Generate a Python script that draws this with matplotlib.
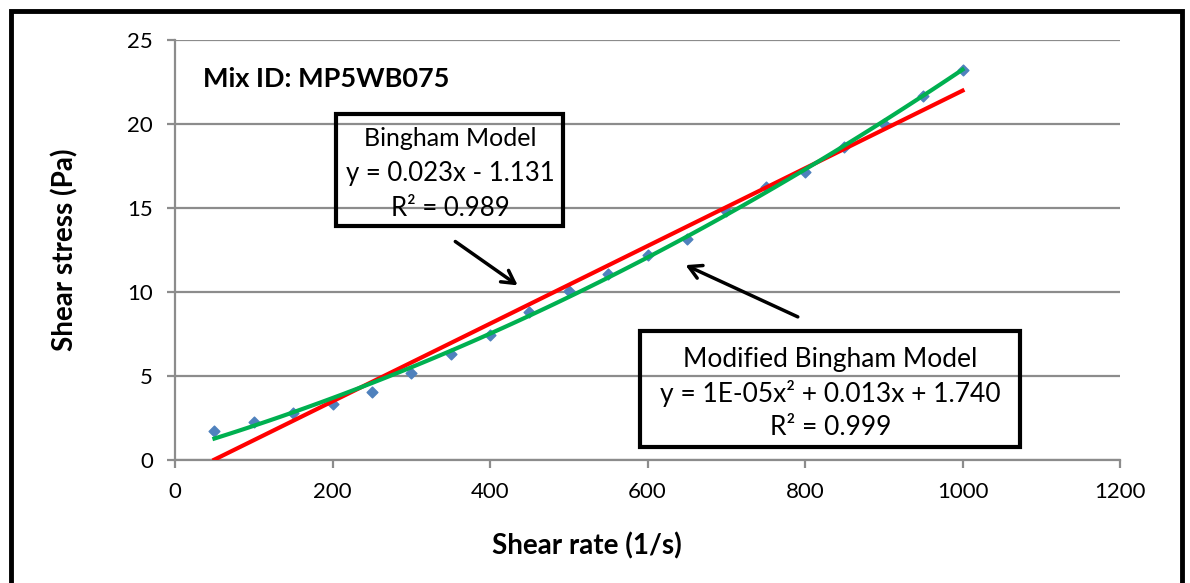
import numpy as np
import matplotlib
matplotlib.use("Agg")
import matplotlib.pyplot as plt
from matplotlib.patches import Rectangle

plt.rcParams['font.family'] = ['Lato', 'DejaVu Sans']

# measured points
shear_rate = [50, 100, 150, 200, 250, 300, 350, 400, 450, 500,
              550, 600, 650, 700, 750, 800, 850, 900, 950, 1000]
shear_stress = [1.74, 2.24, 2.82, 3.33, 4.03, 5.20, 6.29, 7.44, 8.83, 10.06,
                11.07, 12.20, 13.15, 14.82, 16.23, 17.16, 18.61, 19.98, 21.67, 23.21]

x_ticks = [0, 200, 400, 600, 800, 1000, 1200]
y_ticks = [0, 5, 10, 15, 20, 25]

mix_id = "Mix ID: MP5WB075"
bingham_text = ["Bingham Model", "y = 0.023x - 1.131", "R² = 0.989"]
mod_text = ["Modified Bingham Model", "y = 1E-05x² + 0.013x + 1.740", "R² = 0.999"]

x = np.array(shear_rate, dtype=float)
y = np.array(shear_stress, dtype=float)
lin = np.polyfit(x, y, 1)
quad = np.polyfit(x, y, 2)
xs = np.linspace(x.min(), x.max(), 100)

fig = plt.figure(figsize=(11.9, 5.83), dpi=100)
ax = fig.add_axes([0.1471, 0.2110, 0.7941, 0.7204])

grid_c = "#8c8c8c"
ax.set_xlim(0, 1200)
ax.set_ylim(0, 25)
ax.set_xticks(x_ticks)
ax.set_yticks(y_ticks)
ax.yaxis.grid(True, color=grid_c, linewidth=1.6)
ax.set_axisbelow(True)
for s in ["top", "right"]:
    ax.spines[s].set_visible(False)
for s in ["left", "bottom"]:
    ax.spines[s].set_color(grid_c)
    ax.spines[s].set_linewidth(1.6)
ax.tick_params(axis="both", direction="out", length=6, width=1.6, color=grid_c,
               labelsize=16, pad=10)

ax.scatter(x, y, marker="D", s=30, color="#4F81BD", zorder=3)
ax.plot(xs, np.polyval(lin, xs), color="#FF0000", linewidth=3, zorder=4)
ax.plot(xs, np.polyval(quad, xs), color="#00B050", linewidth=3, zorder=5)

ax.set_xlabel("Shear rate (1/s)", fontsize=20, fontweight="bold", va="center")
ax.set_ylabel("Shear stress (Pa)", fontsize=20, fontweight="bold", va="center")
ax.xaxis.set_label_coords(0.436, -0.205)
ax.yaxis.set_label_coords(-0.1164, 0.5)

ax.text(36, 22.7, mix_id, fontsize=19.5, fontweight="bold", va="center", ha="left")

# Bingham box
ax.add_patch(Rectangle((205, 13.9), 288, 6.7, fill=False, edgecolor="black",
                       linewidth=3, zorder=6))
for i, t in enumerate(bingham_text):
    ax.text(349, 19.15 - i * 2.08, t, fontsize=18 if i == 0 else 18.5, ha="center",
            va="center", zorder=7)

# Modified Bingham box
ax.add_patch(Rectangle((591, 0.79), 482, 6.89, fill=False, edgecolor="black",
                       linewidth=3, zorder=6))
for i, t in enumerate(mod_text):
    ax.text(832, 6.0 - i * 2.02, t, fontsize=19, ha="center", va="center", zorder=7)

arrow = dict(arrowstyle="->,head_length=0.9,head_width=0.5", color="black", lw=2.5)
ax.annotate("", xy=(438, 10.3), xytext=(353, 13.1), arrowprops=arrow)
ax.annotate("", xy=(645, 11.67), xytext=(794, 8.45), arrowprops=arrow)

# outer frame
fig.add_artist(Rectangle((0.0092, -0.05), 0.9841, 1.031, fill=False,
                         edgecolor="black", linewidth=3.5,
                         transform=fig.transFigure, clip_on=False))

fig.savefig("out.png", dpi=100)
